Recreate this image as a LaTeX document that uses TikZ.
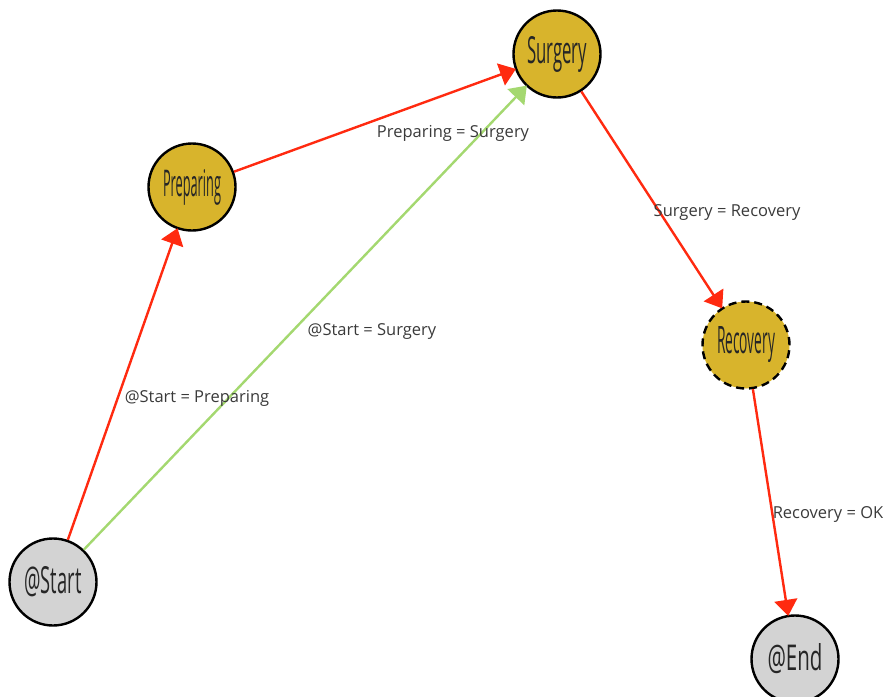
\documentclass[tikz,border=0pt]{standalone}
\usepackage{fontspec}
\setsansfont{Open Sans}
\usetikzlibrary{arrows.meta}
\definecolor{stategold}{HTML}{D8B42C}
\definecolor{stategray}{HTML}{D3D3D3}
\definecolor{flowred}{HTML}{FF2A10}
\definecolor{flowgreen}{HTML}{A4D870}
\definecolor{labelgray}{HTML}{3A3A3A}
\definecolor{statetext}{HTML}{262626}
% state name squeezed into the circle
\newcommand{\statename}[2]{\resizebox{#1}{27pt}{\sffamily #2}}
\tikzset{
  state/.style={circle, draw=black, line width=2.4pt, minimum size=87pt,
    inner sep=0pt, text=statetext},
  goldstate/.style={state, fill=stategold},
  graystate/.style={state, fill=stategray},
  flow/.style={draw=flowred, line width=2.4pt,
    -{Triangle[length=16pt,width=23pt]}, shorten >=-1pt},
  greenflow/.style={flow, draw=flowgreen},
  flowlabel/.style={font=\sffamily\fontsize{16.5}{19}\selectfont, text=labelgray,
    inner sep=0pt}
}
\begin{document}
\begin{tikzpicture}[x=1pt,y=-1pt]
  \useasboundingbox (0,0) rectangle (888,696);
  \clip (0,0) rectangle (888,696);

  \node[graystate] (start) at (53,582) {\statename{57pt}{@Start}};
  \node[goldstate] (prep) at (192,187) {\statename{58pt}{Preparing}};
  \node[goldstate] (surg) at (557,54) {\statename{60pt}{Surgery}};
  \node[goldstate, dash pattern=on 8pt off 5pt] (reco) at (746,345) {\statename{58pt}{Recovery}};
  \node[graystate] (end) at (795,659) {\statename{55pt}{@End}};

  \draw[greenflow] (start) -- (surg);
  \draw[flow] (start) -- (prep);
  \draw[flow] (prep) -- (surg);
  \draw[flow] (surg) -- (reco);
  \draw[flow] (reco) -- (end);

  \node[flowlabel] (lps) at (453,133) {Preparing = Surgery};
  \node[flowlabel] (lss) at (372,332) {@Start = Surgery};
  \node[flowlabel] (lsp) at (197,398) {@Start = Preparing};
  \node[flowlabel] (lsr) at (727,213) {Surgery = Recovery};
  \node[flowlabel] (lro) at (828,514) {Recovery = OK};
\end{tikzpicture}
\end{document}
